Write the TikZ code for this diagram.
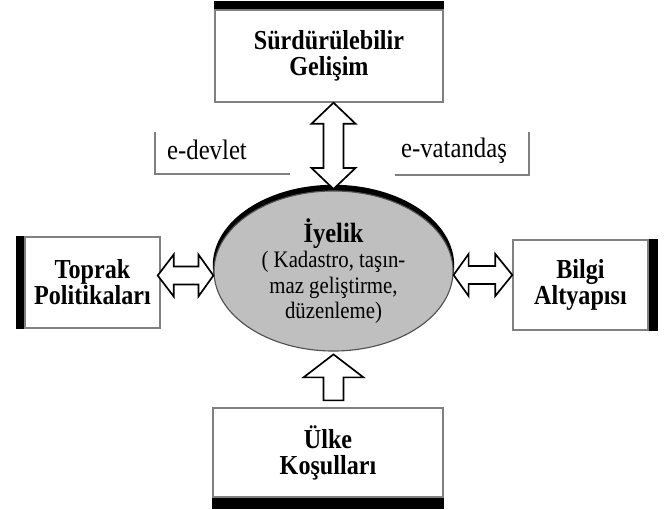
\documentclass[tikz,border=0pt]{standalone}
\usepackage{fontspec}
\setmainfont[FakeStretch=0.88]{Liberation Serif}
\usepackage{tikz}
\usetikzlibrary{positioning, calc, shapes.geometric, shadows}

\definecolor{boxline}{HTML}{808080}
\definecolor{ovalfill}{HTML}{BFBFBF}
\definecolor{ovalline}{HTML}{505050}

\begin{document}
\begin{tikzpicture}[
            x=0.025cm, y=-0.025cm,
            % Styles
            box/.style={rectangle, draw=boxline, line width=1pt, fill=white, align=center,
                    inner sep=0pt, font=\fontsize{19.5}{18.6}\selectfont\bfseries},
            oval/.style={ellipse, draw=ovalline, line width=0.8pt, fill=ovalfill, inner sep=0pt,
                    minimum width=5.975cm, minimum height=4cm, align=center,
                    font=\fontsize{16.8}{18}\selectfont,
                    drop shadow={shadow xshift=0pt, shadow yshift=3.8pt, shadow scale=1.01,
                        opacity=1, fill=black}},
            tag/.style={font=\fontsize{20}{20}\selectfont, inner sep=0pt},
            bar/.style={fill=black},
            bracket/.style={draw=boxline, line width=1.2pt},
            blockarrow/.style={draw=black, fill=white, line width=1.2pt, line join=miter},
            ]
            \useasboundingbox (0,0) rectangle (665,510);

            % === CENTRE ===
            \node[oval] (iye) at (333.5,271) {{\fontsize{19.8}{18}\selectfont\bfseries İyelik}\\
                ( Kadastro, taşın-\\maz geliştirme,\\düzenleme)};

            % === SURROUNDING BOXES ===
            \node[box, minimum width=5.7cm, minimum height=2.3cm] (top) at (329,56) {Sürdürülebilir\\Gelişim};
            \node[box, minimum width=3.375cm, minimum height=2.275cm] (left) at (92.5,282.5) {Toprak\\Politikaları};
            \node[box, minimum width=3.375cm, minimum height=2.25cm] (right) at (580.5,285) {Bilgi\\Altyapısı};
            \node[box, minimum width=5.75cm, minimum height=2.225cm] (bottom) at (328,452.5) {Ülke\\Koşulları};

            % black edges
            \fill[bar] (top.north west) rectangle ([yshift=0.2cm]top.north east);
            \fill[bar] (left.north west) rectangle ([xshift=-0.2cm]left.south west);
            \fill[bar] (right.north east) rectangle ([xshift=0.225cm]right.south east);
            \fill[bar] (bottom.south west) rectangle ([yshift=-0.275cm]bottom.south east);

            % === LABELS ===
            \node[tag] (devlet) at (207,150) {e-devlet};
            \node[tag] (vatandas) at (454,151) {e-vatandaş};
            \draw[bracket] (155,132) |- (290,174);
            \draw[bracket] (395,175) -| (529,132);

            % === BLOCK ARROWS ===
            % top <-> centre
            \coordinate (ta) at (iye.north |- top.south);
            \coordinate (tb) at ([yshift=1pt]iye.north);
            \draw[blockarrow] (ta) -- ++(22,21) -- ++(-12,0) -- ($(tb)+(10,-21)$) -- ++(12,0)
            -- (tb) -- ++(-22,-21) -- ++(12,0) -- ($(ta)+(-10,21)$) -- ++(-12,0) -- cycle;

            % left <-> centre
            \coordinate (la) at ($(left.east)+(-3,-7)$);
            \coordinate (lb) at (iye.west |- la);
            \draw[blockarrow] (la) -- ++(16,-21) -- ++(0,12) -- ($(lb)+(-15,-9)$) -- ++(0,-12)
            -- (lb) -- ++(-15,21) -- ++(0,-12) -- ($(la)+(16,9)$) -- ++(0,12) -- cycle;

            % centre <-> right
            \coordinate (ra) at ($(iye.east)+(0,4)$);
            \coordinate (rb) at (right.west |- ra);
            \draw[blockarrow] (ra) -- ++(15,-21) -- ++(0,12) -- ($(rb)+(-17,-9)$) -- ++(0,-12)
            -- (rb) -- ++(-17,21) -- ++(0,-12) -- ($(ra)+(15,9)$) -- ++(0,12) -- cycle;

            % bottom -> centre
            \coordinate (ua) at ([yshift=-2pt]iye.south);
            \draw[blockarrow] (ua) -- ++(30,23) -- ++(-20,0) -- ++(0,23) -- ++(-20,0)
            -- ++(0,-23) -- ++(-20,0) -- cycle;

        \end{tikzpicture}
\end{document}
